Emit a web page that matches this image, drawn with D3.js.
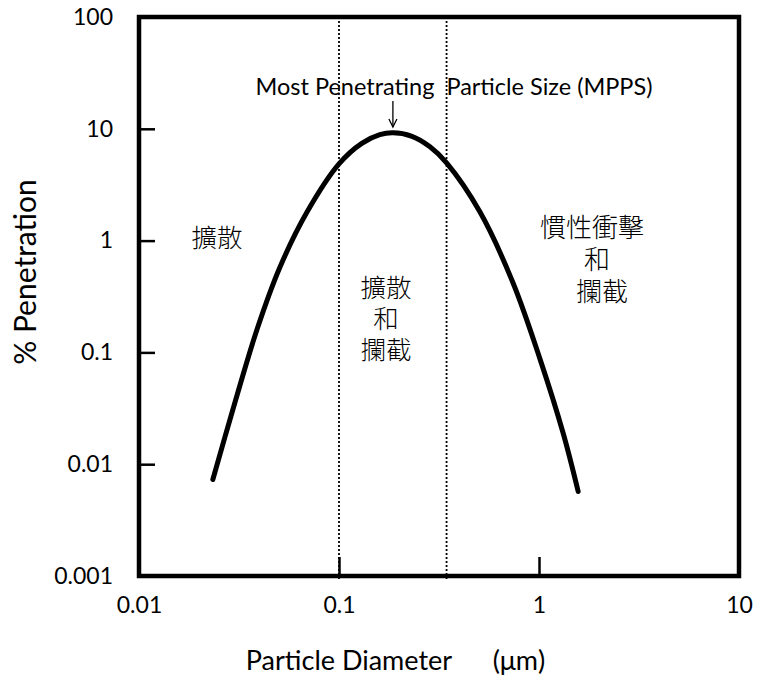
<!DOCTYPE html>
<html>
<head>
<meta charset="utf-8">
<script src="https://cdn.jsdelivr.net/npm/d3@7"></script>
<style>
  body { margin: 0; background: #fff; }
  text { font-family: Lato, "Open Sans", sans-serif; fill: #000; }
  .zh { font-family: Lato, "Noto Sans CJK TC", "Noto Sans CJK SC", sans-serif; font-weight: 300; }
</style>
</head>
<body>
<main></main>
<script>
  // curve: diameter (µm) vs % penetration
  const diameter = [0.0234, 0.0295, 0.0389, 0.0507, 0.0692, 0.1, 0.13, 0.16, 0.186, 0.23, 0.285, 0.345, 0.507, 0.741, 1.01, 1.32, 1.57];
  const penetration = [0.0073, 0.031, 0.16, 0.58, 1.8, 4.85, 7.4, 8.85, 9.2, 8.6, 6.9, 4.95, 1.8, 0.42, 0.088, 0.019, 0.0057];

  const xTicks = [0.01, 0.1, 1, 10];
  const yTicks = [100, 10, 1, 0.1, 0.01, 0.001];
  const regionBounds = [0.1, 0.345];
  const mpps = 0.186;

  const w = 761;
  const h = 677;
  const margin = { top: 17, right: 22, bottom: 101, left: 139 };

  const svg = d3.select("main")
    .append("svg")
    .attr("width", w)
    .attr("height", h);

  const xScale = d3.scaleLog()
    .domain([0.01, 10])
    .range([margin.left, w - margin.right]);

  const yScale = d3.scaleLog()
    .domain([0.001, 100])
    .range([h - margin.bottom, margin.top]);

  // dotted region lines
  svg.selectAll(".bound")
    .data(regionBounds)
    .enter()
    .append("line")
    .attr("class", "bound")
    .attr("x1", d => xScale(d))
    .attr("x2", d => xScale(d))
    .attr("y1", margin.top)
    .attr("y2", h - margin.bottom + 3)
    .attr("stroke", "#000")
    .attr("stroke-width", 1.8)
    .attr("stroke-dasharray", "2,2");

  // axes, ticks pointing inward
  const xAxis = d3.axisBottom(xScale)
    .tickValues(xTicks)
    .tickFormat(d => d3.format("~g")(d))
    .tickSize(-19)
    .tickPadding(21);

  const yAxis = d3.axisLeft(yScale)
    .tickValues(yTicks)
    .tickFormat(d => d3.format("~g")(d))
    .tickSize(-16)
    .tickPadding(26);

  const gx = svg.append("g")
    .attr("transform", "translate(0," + (h - margin.bottom) + ")")
    .call(xAxis);

  const gy = svg.append("g")
    .attr("transform", "translate(" + margin.left + ",0)")
    .call(yAxis);

  [gx, gy].forEach(g => {
    g.select(".domain").remove();
    g.selectAll(".tick line").attr("stroke", "#000").attr("stroke-width", 2.5);
    g.selectAll(".tick text").style("font-size", "23px").attr("fill", "#000");
  });

  // frame
  svg.append("rect")
    .attr("x", margin.left)
    .attr("y", margin.top)
    .attr("width", w - margin.left - margin.right)
    .attr("height", h - margin.top - margin.bottom)
    .attr("fill", "none")
    .attr("stroke", "#000")
    .attr("stroke-width", 4.5);

  // penetration curve
  const line = d3.line()
    .x((d, i) => xScale(diameter[i]))
    .y((d, i) => yScale(penetration[i]))
    .curve(d3.curveCatmullRom.alpha(0.5));

  svg.append("path")
    .datum(penetration)
    .attr("d", line)
    .attr("fill", "none")
    .attr("stroke", "#000")
    .attr("stroke-width", 5)
    .attr("stroke-linecap", "round");

  // MPPS annotation
  const ax = xScale(mpps);
  svg.append("text")
    .attr("x", 454)
    .attr("y", 95)
    .attr("text-anchor", "middle")
    .style("font-size", "23.5px")
    .attr("xml:space", "preserve")
    .text("Most Penetrating  Particle Size (MPPS)");

  svg.append("line")
    .attr("x1", ax).attr("x2", ax)
    .attr("y1", 101).attr("y2", 127)
    .attr("stroke", "#000")
    .attr("stroke-width", 1.3);

  svg.append("path")
    .attr("d", `M${ax - 4},${119} L${ax},${127} L${ax + 4},${119}`)
    .attr("fill", "none")
    .attr("stroke", "#000")
    .attr("stroke-width", 1.3);

  // mechanism labels, one text block each
  const labels = [
    { x: 217, y: 247, gap: 31, size: 25.5, shift: [0], lines: ["擴散"] },
    { x: 386, y: 297, gap: 31, size: 25.5, shift: [0, 0, 0], lines: ["擴散", "和", "攔截"] },
    { x: 592, y: 237, gap: 32, size: 26, shift: [0, 5, 10], lines: ["慣性衝擊", "和", "攔截"] }
  ];

  labels.forEach(l => {
    const t = svg.append("text")
      .attr("class", "zh")
      .attr("text-anchor", "middle")
      .style("font-size", l.size + "px");
    t.selectAll("tspan")
      .data(l.lines)
      .enter()
      .append("tspan")
      .attr("x", (d, i) => l.x + l.shift[i])
      .attr("y", (d, i) => l.y + i * l.gap)
      .text(d => d);
  });

  // axis titles
  svg.append("text")
    .attr("x", 349)
    .attr("y", 670)
    .attr("text-anchor", "middle")
    .style("font-size", "27px")
    .text("Particle Diameter");

  svg.append("text")
    .attr("x", 519)
    .attr("y", 670)
    .attr("text-anchor", "middle")
    .style("font-size", "27px")
    .text("(μm)");

  svg.append("text")
    .attr("transform", "translate(36,272) rotate(-90)")
    .attr("text-anchor", "middle")
    .style("font-size", "30px")
    .text("% Penetration");
</script>
</body>
</html>
